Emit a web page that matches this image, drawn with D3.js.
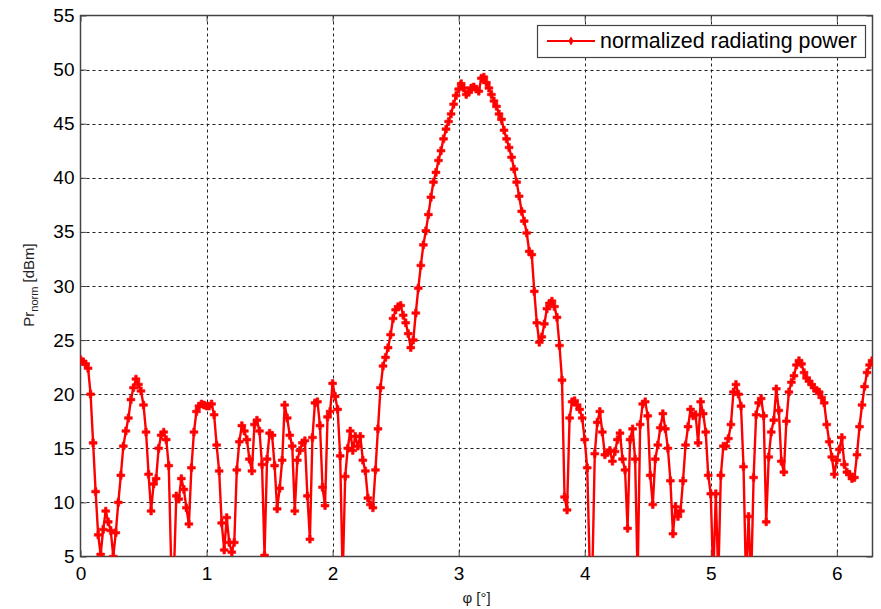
<!DOCTYPE html>
<html>
<head>
<meta charset="utf-8">
<script src="https://cdn.jsdelivr.net/npm/d3@7"></script>
<style>
  body { margin: 0; background: #fff; }
  text { font-family: "Liberation Sans", Arial, sans-serif; }
</style>
</head>
<body>
<div id="chart"></div>
<script>
// phi sampled every 0.02 rad from 0 to 6.28
const phiStep = 0.02;
const power = [
  23.2, 23.0, 22.8, 22.4, 20.0, 15.5, 11.0, 7.0, 5.2, 7.5,
  9.2, 8.2, 7.4, 5.0, 7.2, 10.0, 12.5, 15.2, 16.6, 17.8,
  19.5, 20.6, 21.4, 20.9, 20.3, 19.0, 16.5, 12.6, 9.2, 11.7,
  12.2, 15.0, 16.2, 16.5, 15.8, 13.4, 4.0, 3.0, 10.6, 10.3,
  12.2, 11.2, 9.5, 8.0, 13.2, 16.5, 18.4, 18.9, 19.1, 19.0,
  18.9, 18.9, 19.1, 18.1, 15.3, 12.9, 8.1, 5.6, 8.6, 6.3,
  5.4, 6.3, 13.0, 15.6, 17.1, 16.6, 15.8, 14.0, 12.9, 17.2,
  17.6, 16.6, 13.5, 5.1, 14.0, 16.4, 16.2, 13.4, 9.4, 11.3,
  13.9, 19.0, 17.8, 16.2, 15.2, 9.2, 13.9, 14.8, 15.5, 15.7,
  10.6, 6.6, 16.0, 19.2, 19.3, 17.1, 11.4, 9.7, 17.9, 18.4,
  21.0, 19.8, 18.6, 14.3, 3.0, 12.4, 15.0, 16.6, 14.8, 16.1,
  15.2, 16.1, 13.9, 12.9, 10.4, 9.8, 9.5, 13.0, 16.8, 20.6,
  22.6, 23.4, 24.3, 25.5, 27.0, 27.8, 28.1, 28.2, 27.3, 26.6,
  25.6, 24.3, 25.0, 27.5, 29.8, 31.9, 33.8, 35.1, 36.6, 38.2,
  39.6, 40.5, 41.6, 42.5, 43.6, 44.5, 45.2, 45.9, 46.8, 47.6,
  48.2, 48.7, 48.3, 47.7, 47.9, 48.3, 48.4, 48.2, 48.0, 49.2,
  49.3, 48.8, 48.3, 47.7, 47.1, 46.6, 45.9, 45.4, 44.4, 43.6,
  42.8, 41.9, 40.8, 39.6, 38.3, 36.9, 36.0, 34.9, 33.2, 32.9,
  29.5, 26.6, 24.8, 25.3, 26.5, 27.9, 28.4, 28.6, 28.1, 27.1,
  24.5, 21.3, 10.5, 9.3, 17.8, 19.3, 19.4, 19.0, 18.6, 17.8,
  15.8, 13.2, 4.0, 3.0, 14.5, 17.4, 18.4, 16.5, 14.4, 14.6,
  14.8, 13.8, 14.7, 15.8, 16.4, 14.0, 13.0, 7.6, 15.8, 16.8,
  14.0, 3.0, 17.2, 19.1, 19.3, 18.0, 12.5, 9.8, 14.0, 15.3,
  16.9, 18.2, 16.8, 15.0, 12.0, 7.1, 9.6, 8.7, 9.2, 12.0,
  15.3, 17.0, 18.6, 18.0, 18.1, 15.5, 19.3, 18.2, 16.5, 12.5,
  10.8, 3.0, 10.8, 3.0, 12.5, 15.2, 15.2, 15.9, 17.2, 20.2,
  20.9, 20.0, 18.9, 13.3, 2.5, 8.7, 2.5, 12.3, 18.1, 19.2,
  19.6, 18.0, 8.2, 14.2, 16.5, 17.6, 20.5, 18.5, 13.8, 12.8,
  17.5, 20.2, 21.1, 21.7, 22.7, 23.1, 22.8, 22.0, 21.5, 21.2,
  20.9, 20.6, 20.3, 20.2, 19.7, 19.2, 17.2, 15.6, 14.2, 12.6,
  13.9, 14.9, 16.0, 13.5, 12.8, 12.6, 12.2, 12.3, 14.4, 17.0,
  19.0, 20.7, 22.0, 22.7, 23.1
];
const xTicks = [0, 1, 2, 3, 4, 5, 6];
const yTicks = [5, 10, 15, 20, 25, 30, 35, 40, 45, 50, 55];
const seriesName = 'normalized radiating power';

const width = 881, height = 609;
const margin = { top: 15.5, right: 8.5, bottom: 52.5, left: 80.5 };
const red = '#ff0000';

const data = power.map((v, i) => ({ phi: i * phiStep, p: v }));

const svg = d3.select('#chart')
    .append('svg')
    .attr('width', width)
    .attr('height', height);

const x = d3.scaleLinear()
    .domain([0, 2 * Math.PI])
    .range([margin.left, width - margin.right]);

const y = d3.scaleLinear()
    .domain([5, 55])
    .range([height - margin.bottom, margin.top]);

svg.append('defs').append('clipPath')
    .attr('id', 'plot-clip')
    .append('rect')
    .attr('x', margin.left)
    .attr('y', margin.top)
    .attr('width', width - margin.left - margin.right)
    .attr('height', height - margin.top - margin.bottom);

// grid
const grid = svg.append('g')
    .attr('stroke', '#222')
    .attr('stroke-width', 1)
    .attr('stroke-dasharray', '3,3');

grid.selectAll('.gx')
    .data(xTicks.filter(d => d > 0))
    .join('line')
    .attr('x1', d => Math.round(x(d)) + 0.5)
    .attr('x2', d => Math.round(x(d)) + 0.5)
    .attr('y1', margin.top)
    .attr('y2', height - margin.bottom);

grid.selectAll('.gy')
    .data(yTicks.filter(d => d > 5 && d < 55))
    .join('line')
    .attr('x1', margin.left)
    .attr('x2', width - margin.right)
    .attr('y1', d => Math.round(y(d)) + 0.5)
    .attr('y2', d => Math.round(y(d)) + 0.5);

// axes
const styleAxis = g => {
    g.select('.domain').remove();
    g.selectAll('.tick line').attr('stroke', '#444');
    g.selectAll('.tick text').attr('fill', '#000').style('font-size', '19px');
};

svg.append('g')
    .attr('transform', `translate(0,${height - margin.bottom})`)
    .call(d3.axisBottom(x).tickValues(xTicks).tickFormat(d3.format('d')).tickSize(-6).tickPadding(10))
    .call(styleAxis);

svg.append('g')
    .attr('transform', `translate(0,${margin.top})`)
    .call(d3.axisTop(x).tickValues(xTicks).tickFormat('').tickSize(-6))
    .call(styleAxis);

svg.append('g')
    .attr('transform', `translate(${margin.left},0)`)
    .call(d3.axisLeft(y).tickValues(yTicks).tickFormat(d3.format('d')).tickSize(-6).tickPadding(6))
    .call(styleAxis);

svg.append('g')
    .attr('transform', `translate(${width - margin.right},0)`)
    .call(d3.axisRight(y).tickValues(yTicks).tickFormat('').tickSize(-6))
    .call(styleAxis);

svg.append('rect')
    .attr('x', margin.left)
    .attr('y', margin.top)
    .attr('width', width - margin.left - margin.right)
    .attr('height', height - margin.top - margin.bottom)
    .attr('fill', 'none')
    .attr('stroke', '#444')
    .attr('stroke-width', 1.5);

// series
const plot = svg.append('g').attr('clip-path', 'url(#plot-clip)');

const line = d3.line()
    .x(d => x(d.phi))
    .y(d => y(d.p));

plot.append('path')
    .datum(data)
    .attr('fill', 'none')
    .attr('stroke', red)
    .attr('stroke-width', 2.4)
    .attr('stroke-linejoin', 'round')
    .attr('d', line);

const marker = d3.symbol().type(d3.symbolCross).size(34);

plot.selectAll('.mk')
    .data(data)
    .join('path')
    .attr('transform', d => `translate(${x(d.phi)},${y(d.p)})`)
    .attr('d', marker)
    .attr('fill', red)
    .attr('stroke', red)
    .attr('stroke-width', 0.6);

// legend
const legend = svg.append('g');
legend.append('rect')
    .attr('x', 537.5)
    .attr('y', 25.5)
    .attr('width', 328)
    .attr('height', 32)
    .attr('fill', '#fff')
    .attr('stroke', '#444')
    .attr('stroke-width', 1.2);
legend.append('line')
    .attr('x1', 547).attr('x2', 595)
    .attr('y1', 41).attr('y2', 41)
    .attr('stroke', red)
    .attr('stroke-width', 2);
legend.append('path')
    .attr('transform', 'translate(571,41)')
    .attr('d', d3.symbol().type(d3.symbolDiamond).size(24))
    .attr('fill', red);
legend.append('text')
    .attr('x', 600)
    .attr('y', 41)
    .attr('dy', '0.35em')
    .style('font-size', '21.4px')
    .text(seriesName);

// axis labels
svg.append('text')
    .attr('x', x(Math.PI))
    .attr('y', 603)
    .attr('text-anchor', 'middle')
    .style('font-size', '15px')
    .style('fill', '#222')
    .text('φ [°]');

const yl = svg.append('text')
    .attr('transform', 'translate(34,285) rotate(-90)')
    .attr('text-anchor', 'middle')
    .style('font-size', '15px')
    .style('fill', '#222');
yl.append('tspan').text('Pr');
yl.append('tspan').attr('dy', 4).style('font-size', '11px').text('norm');
yl.append('tspan').attr('dy', -4).text(' [dBm]');
</script>
</body>
</html>
